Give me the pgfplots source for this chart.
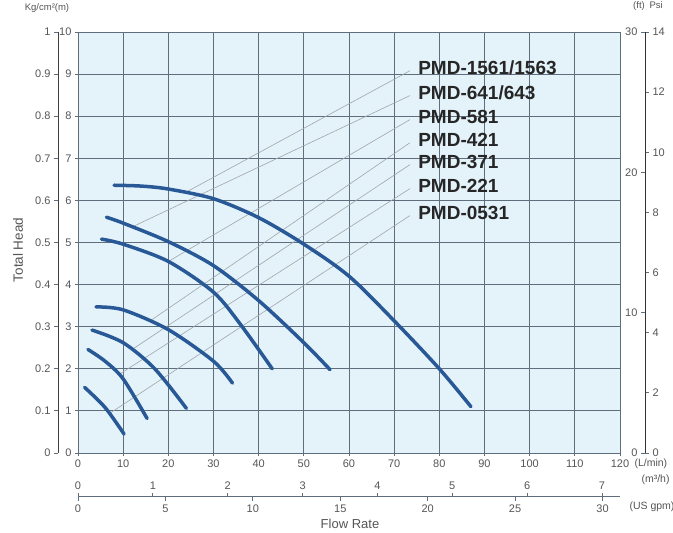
\documentclass[border=0pt]{standalone}
\usepackage{fontspec}
\setmainfont{Liberation Sans}
\usepackage{pgfplots}
\pgfplotsset{compat=1.18}
\definecolor{curve}{RGB}{40,88,150}
\definecolor{gridc}{RGB}{95,110,125}
\definecolor{bgc}{RGB}{228,243,250}
\definecolor{txt}{RGB}{85,85,85}
\definecolor{lead}{RGB}{160,165,170}
\pgfplotsset{
  base/.style={scale only axis, width=542pt, height=421pt,
    /pgf/number format/assume math mode=true,
    tick label style={font=\fontsize{11}{12}\selectfont, text=txt},
    axis line style={gridc, line width=0.9pt, -},
    major tick length=4pt, tick style={gridc, line width=0.8pt}, tick align=outside},
}
\tikzset{modlab/.style={anchor=west, inner sep=0pt, text=black!85, font=\fontsize{19}{20}\selectfont\bfseries},
  pc/.style={curve, line width=3.5pt, smooth, line cap=round}}
\begin{document}
\begin{tikzpicture}
\useasboundingbox (-78pt,-80pt) rectangle (595pt,453pt);
% main axis
\begin{axis}[base, at={(0pt,0pt)}, anchor=south west,
  xmin=0, xmax=120, ymin=0, ymax=10,
  xtick={0,10,...,120}, ytick={0,1,...,10},
  xtick pos=bottom, ytick pos=left, major tick length=3pt,
  grid=major, grid style={gridc, line width=0.9pt},
  axis background/.style={fill=bgc},
  clip=false]
  % leader lines
  \draw[lead, line width=0.6pt] (axis cs:73.5,9.08) -- (axis cs:24,6.20);
  \draw[lead, line width=0.6pt] (axis cs:73.5,8.49) -- (axis cs:12,5.37);
  \draw[lead, line width=0.6pt] (axis cs:73.5,7.92) -- (axis cs:20,4.55);
  \draw[lead, line width=0.6pt] (axis cs:73.5,7.37) -- (axis cs:16,3.14);
  \draw[lead, line width=0.6pt] (axis cs:73.5,6.85) -- (axis cs:12,2.46);
  \draw[lead, line width=0.6pt] (axis cs:73.5,6.28) -- (axis cs:9,1.86);
  \draw[lead, line width=0.6pt] (axis cs:73.5,5.64) -- (axis cs:7,0.94);
  % curves
  \addplot[pc] coordinates {(8,6.36) (14,6.34) (20,6.27) (30,6.04) (40,5.59) (50,4.96) (60,4.2) (70,3.14) (80,2.0) (87,1.1)};
  \addplot[pc] coordinates {(6.3,5.60) (10,5.46) (20,5.02) (30,4.45) (40,3.62) (50,2.62) (55.8,1.98)};
  \addplot[pc] coordinates {(5.2,5.08) (10,4.96) (20,4.55) (30,3.82) (36,3.05) (43,2.0)};
  \addplot[pc] coordinates {(4.0,3.47) (10,3.40) (20,2.93) (30,2.18) (34.2,1.66)};
  \addplot[pc] coordinates {(3.1,2.92) (10,2.62) (17,2.0) (24,1.06)};
  \addplot[pc] coordinates {(2.2,2.46) (6,2.18) (10,1.76) (15.3,0.82)};
  \addplot[pc] coordinates {(1.45,1.56) (6,1.08) (10.2,0.45)};
  % model labels
  \node[modlab] at (axis cs:75.3,9.14) {PMD-1561/1563};
  \node[modlab] at (axis cs:75.3,8.55) {PMD-641/643};
  \node[modlab] at (axis cs:75.3,7.98) {PMD-581};
  \node[modlab] at (axis cs:75.3,7.43) {PMD-421};
  \node[modlab] at (axis cs:75.3,6.91) {PMD-371};
  \node[modlab] at (axis cs:75.3,6.34) {PMD-221};
  \node[modlab] at (axis cs:75.3,5.70) {PMD-0531};
\end{axis}
% outer left axis (kg/cm2)
\begin{axis}[base, at={(-20pt,0pt)}, anchor=south west,
  xmin=0, xmax=1, ymin=0, ymax=1,
  ytick={0,0.1,0.2,0.3,0.4,0.5,0.6,0.7,0.8,0.9,1},
  axis y line*=left, hide x axis,
  axis line style={black!75, line width=0.9pt, -},
  yticklabel style={/pgf/number format/fixed}]
\end{axis}
% right ft axis
\begin{axis}[base, at={(567pt,0pt)}, anchor=south west,
  xmin=0, xmax=1, ymin=0, ymax=30, ytick={0,10,20,30},
  axis y line*=left, hide x axis,
  axis line style={black!80, line width=1pt, -}]
\end{axis}
% right psi axis
\begin{axis}[base, at={(25pt,0pt)}, anchor=south west,
  xmin=0, xmax=1, ymin=0, ymax=14, ytick={0,2,...,14},
  axis y line*=right, hide x axis,
  axis line style={black!80, line width=1pt, -}]
\end{axis}
% m3/h axis (labels above line)
\begin{axis}[base, at={(0pt,-44pt)}, anchor=north west,
  xmin=0, xmax=7.24, ymin=0, ymax=1, xtick={0,1,...,7},
  axis x line*=top, hide y axis,
  axis line style={gridc, line width=1pt, -}]
\end{axis}
% US gpm axis (labels below line)
\begin{axis}[base, at={(0pt,-44pt)}, anchor=south west,
  xmin=0, xmax=31, ymin=0, ymax=1, xtick={0,5,...,30},
  axis x line*=bottom, hide y axis,
  axis line style={gridc, line width=1pt, -}]
\end{axis}
% unit and axis labels
\node[anchor=west, text=txt, font=\fontsize{10.5}{11}\selectfont] at (553pt,-11pt) {(L/min)};
\node[anchor=west, text=txt, font=\fontsize{10.5}{11}\selectfont] at (560pt,-27pt) {(m³/h)};
\node[anchor=west, text=txt, font=\fontsize{10.5}{11}\selectfont] at (548pt,-54pt) {(US gpm)};
\node[text=txt, font=\fontsize{13}{14}\selectfont] at (272pt,-71pt) {Flow Rate};
\node[text=txt, font=\fontsize{13.5}{14}\selectfont, rotate=90] at (-60pt,203pt) {Total Head};
\node[text=txt, font=\fontsize{9.5}{10}\selectfont] at (-31pt,445pt) {Kg/cm²(m)};
\node[text=txt, font=\fontsize{9.5}{10}\selectfont] at (570pt,447pt) {(ft)\enspace Psi};
\end{tikzpicture}
\end{document}
